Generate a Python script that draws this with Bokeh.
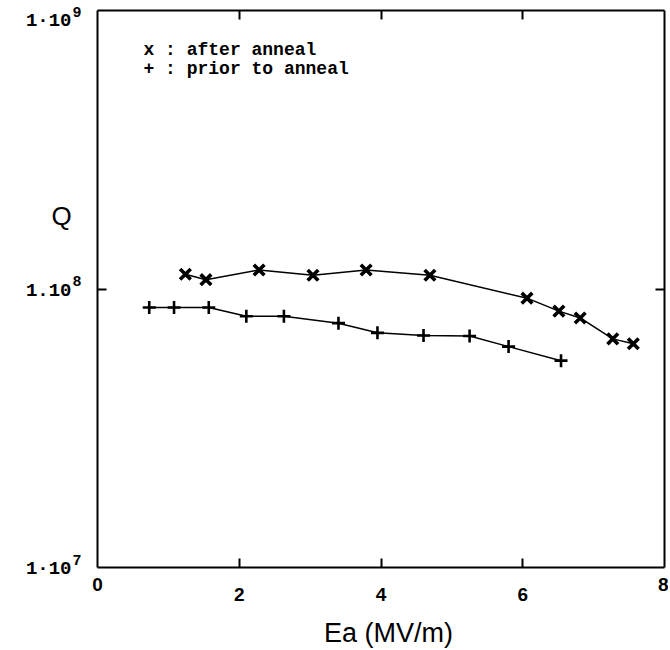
from bokeh.plotting import figure
from bokeh.models import Range1d, LinearAxis, LogAxis, FixedTicker, Label
from bokeh.embed import file_html
from bokeh.resources import INLINE

# data
after_ea = [1.24, 1.53, 2.28, 3.04, 3.79, 4.69, 6.06, 6.51, 6.81, 7.27, 7.56]
after_q = [1.13e8, 1.08e8, 1.17e8, 1.12e8, 1.17e8, 1.12e8, 9.27e7, 8.33e7, 7.87e7, 6.62e7, 6.36e7]
prior_ea = [0.73, 1.08, 1.57, 2.10, 2.63, 3.40, 3.95, 4.60, 5.25, 5.80, 6.54]
prior_q = [8.58e7, 8.58e7, 8.58e7, 7.98e7, 7.98e7, 7.54e7, 6.96e7, 6.81e7, 6.78e7, 6.21e7, 5.53e7]

x_lim = [0, 8]
x_inner_ticks = [2, 4, 6]
x_edge_ticks = [0, 8]
y_exps = [7, 8, 9]
y_mantissas = ["1·10", "1.10", "1·10"]
legend_texts = ["x : after anneal", "+ : prior to anneal"]

# canvas and box geometry (pixels)
W, H = 668, 648
BOX_L, BOX_R, BOX_T, BOX_B = 97, 664, 10, 567
ux = (BOX_R - BOX_L) / (x_lim[1] - x_lim[0])
ud = (BOX_B - BOX_T) / (y_exps[-1] - y_exps[0])
x_start = x_lim[0] - BOX_L / ux
x_end = x_lim[1] + (W - BOX_R) / ux
y_start = 10 ** (y_exps[0] - (H - BOX_B) / ud)
y_end = 10 ** (y_exps[-1] + BOX_T / ud)

p = figure(width=W, height=H, x_range=Range1d(x_start, x_end), y_range=Range1d(y_start, y_end),
           y_axis_type="log", output_backend="svg", toolbar_location=None,
           min_border_left=0, min_border_right=0, min_border_top=0, min_border_bottom=0)
p.outline_line_color = None
p.grid.visible = False
p.background_fill_color = "white"
p.border_fill_color = "white"

ybot, ytop = 10 ** y_exps[0], 10 ** y_exps[-1]

def style(ax, ticks, tick_in, line=True):
    ax.ticker = FixedTicker(ticks=ticks)
    ax.axis_line_color = "black" if line else None
    ax.axis_line_width = 2
    ax.major_tick_in = tick_in
    ax.major_tick_out = 0
    ax.minor_tick_in = 0
    ax.minor_tick_out = 0
    ax.major_tick_line_width = 2
    ax.major_tick_line_color = "black"

def hide_labels(ax):
    ax.major_label_text_color = None
    ax.major_label_text_font_size = "1px"

bottom_ax = p.below[0]
bottom_ax.fixed_location = ybot
bottom_ax.bounds = (x_lim[0], x_lim[1])
style(bottom_ax, x_inner_ticks, 9)
bottom_ax.major_label_text_font = "Liberation Sans"
bottom_ax.major_label_text_font_style = "bold"
bottom_ax.major_label_text_font_size = "19px"
bottom_ax.major_label_text_color = "black"
bottom_ax.major_label_standoff = 20

edge_ax = LinearAxis(fixed_location=ybot, bounds=(x_lim[0], x_lim[1]))
style(edge_ax, x_edge_ticks, 0, line=False)
edge_ax.major_label_text_font = "Liberation Sans"
edge_ax.major_label_text_font_style = "bold"
edge_ax.major_label_text_font_size = "19px"
edge_ax.major_label_text_color = "black"
edge_ax.major_label_standoff = 10
p.add_layout(edge_ax, "below")

top_ax = LinearAxis(fixed_location=ytop, bounds=(x_lim[0], x_lim[1]))
style(top_ax, x_inner_ticks, 9)
hide_labels(top_ax)
p.add_layout(top_ax, "above")

left_ax = p.left[0]
left_ax.fixed_location = x_lim[0]
left_ax.bounds = (ybot, ytop)
style(left_ax, [10 ** 8], 9)
hide_labels(left_ax)

right_ax = LogAxis(fixed_location=x_lim[1], bounds=(ybot, ytop))
style(right_ax, [10 ** 8], 9)
hide_labels(right_ax)
p.add_layout(right_ax, "right")

p.line(after_ea, after_q, line_color="black", line_width=1.5)
p.scatter(after_ea, after_q, marker="x", size=15, line_color="black", line_width=3.6)
p.line(prior_ea, prior_q, line_color="black", line_width=1.5)
p.scatter(prior_ea, prior_q, marker="cross", size=13, line_color="black", line_width=2.6)

# pixel -> data helpers for text placement
def dx(px):
    return x_lim[0] + (px - BOX_L) / ux
def dy(py):
    return 10 ** (y_exps[-1] - (py - BOX_T) / ud)

mono = "Liberation Mono"
sans = "Liberation Sans"

# y tick labels: mantissa plus raised exponent
for e, m in zip(y_exps, y_mantissas):
    shift = 9 if e == y_exps[-1] else 0
    p.add_layout(Label(x=dx(71), y=10 ** e, y_offset=-shift - 1, text=m, text_align="right",
                       text_baseline="middle", text_font=mono, text_font_style="bold",
                       text_font_size="19px", text_color="black"))
    p.add_layout(Label(x=dx(72), y=10 ** e, y_offset=-shift + 8, text=str(e), text_align="left",
                       text_baseline="middle", text_font=mono, text_font_style="bold",
                       text_font_size="15px", text_color="black"))

for i, t in enumerate(legend_texts):
    p.add_layout(Label(x=dx(143), y=dy(49 + 19 * i), text=t, text_align="left", text_baseline="middle",
                       text_font=mono, text_font_style="bold", text_font_size="18px", text_color="black"))

p.add_layout(Label(x=dx(61), y=dy(215), text="Q", text_align="center", text_baseline="middle",
                   text_font=sans, text_font_size="26px", text_color="black"))
p.add_layout(Label(x=dx(388), y=dy(632), text="Ea (MV/m)", text_align="center", text_baseline="middle",
                   text_font=sans, text_font_size="27px", text_color="black"))

open("out.html", "w").write(file_html(p, INLINE))
